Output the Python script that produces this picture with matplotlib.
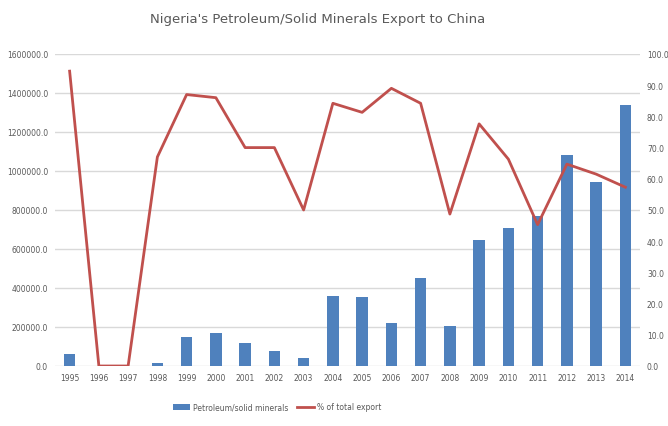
import numpy as np
import matplotlib.pyplot as plt

plt.rcParams['font.family'] = ['Liberation Sans Narrow', 'DejaVu Sans']

years = [str(y) for y in range(1995, 2015)]
petroleum = [60000, 0, 0, 15000, 150000, 170000, 120000, 77000, 40000, 360000,
             352000, 220000, 450000, 207000, 646000, 709000, 771000, 1082000, 945000, 1340000]
pct_total = [94.5, 0, 0, 67, 87, 86, 70, 70, 50, 84.2,
             81.3, 89, 84.2, 48.7, 77.6, 66.3, 45.3, 64.7, 61.5, 57.3]

fig = plt.figure(figsize=(6.68, 4.27), dpi=100)
ax = fig.add_axes([55/668, 1-367/427, 585/668, 312/427])
x = np.arange(len(years))

bars = ax.bar(x, petroleum, width=0.4, color='#4F81BD', label='Petroleum/solid minerals', zorder=2)
ax.set_xlim(-0.5, len(years)-0.5)
ax.set_ylim(0, 1600000)
ax.set_yticks(np.arange(0, 1600001, 200000))
ax.set_yticklabels(['%.1f' % v for v in np.arange(0, 1600001, 200000)])
ax.set_xticks(x)
ax.set_xticklabels(years)
ax.grid(axis='y', color='#D9D9D9', linewidth=1, zorder=0)
ax.set_axisbelow(True)
for s in ax.spines.values():
    s.set_visible(False)
ax.tick_params(length=0, labelsize=5.5, colors='#595959', pad=5)

ax2 = ax.twinx()
line, = ax2.plot(x, pct_total, color='#C0504D', linewidth=2, label='% of total export', zorder=3)
ax2.set_ylim(0, 100)
ax2.set_yticks(np.arange(0, 101, 10))
ax2.set_yticklabels(['%.1f' % v for v in np.arange(0, 101, 10)])
for s in ax2.spines.values():
    s.set_visible(False)
ax2.tick_params(length=0, labelsize=5.5, colors='#595959', pad=5)

fig.text(0.475, 1-20/427, "Nigeria's Petroleum/Solid Minerals Export to China",
         ha='center', va='center', fontsize=9.5, color='#595959')

fig.legend([bars, line], ['Petroleum/solid minerals', '% of total export'],
           loc='center', bbox_to_anchor=(0.415, 1-408/427), ncol=2, frameon=False,
           fontsize=5.5, labelcolor='#595959', handlelength=2.2, columnspacing=1.2,
           handletextpad=0.4)

fig.savefig('out.png', dpi=100)
